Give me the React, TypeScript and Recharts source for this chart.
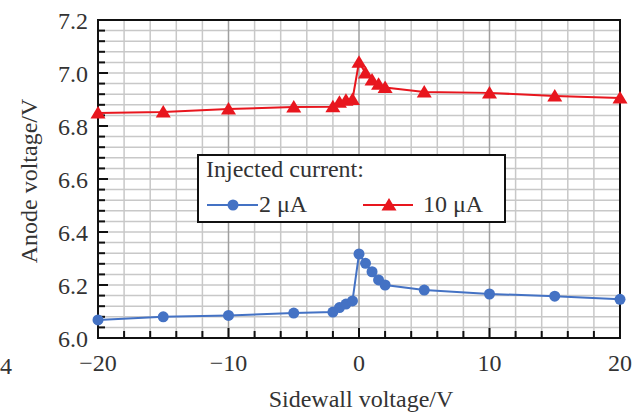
import React from 'react';
import { LineChart, Line, XAxis, YAxis, ReferenceArea, Legend } from 'recharts';

const sidewallV = [-20, -15, -10, -5, -2, -1.5, -1, -0.5, 0, 0.5, 1, 1.5, 2, 5, 10, 15, 20];
const anode2uA = [6.068, 6.08, 6.085, 6.094, 6.098, 6.115, 6.128, 6.14, 6.317, 6.282, 6.25, 6.219, 6.2, 6.181, 6.166, 6.158, 6.146];
const anode10uA = [6.849, 6.853, 6.864, 6.872, 6.873, 6.89, 6.897, 6.9, 7.041, 7.0, 6.974, 6.958, 6.945, 6.928, 6.925, 6.913, 6.906];

const xDomain = [-20, 20];
const yDomain = [6, 7.2];
const xTicks = [-20, -18, -16, -14, -12, -10, -8, -6, -4, -2, 0, 2, 4, 6, 8, 10, 12, 14, 16, 18, 20];
const xLabelTicks = [-20, -10, 0, 10, 20];
const yLabelTicks = [6.0, 6.2, 6.4, 6.6, 6.8, 7.0, 7.2];
const yTicks = Array.from({ length: 31 }, (_, i) => Number((6 + i * 0.04).toFixed(2)));
const darkGrid = [-10, 0, 10];

const series2 = sidewallV.map((x, i) => ({ x, y: anode2uA[i] }));
const series10 = sidewallV.map((x, i) => ({ x, y: anode10uA[i] }));

const BLUE = '#4472c4';
const RED = '#e8161e';
const FONT = '"Liberation Serif", "Times New Roman", serif';
const TXT = '#333';

const fmt = (v: number) => (v < 0 ? '\u2212' + Math.abs(v) : String(v));
const isIn = (list: number[], v: number) => list.some((t) => Math.abs(t - v) < 1e-6);

const YTick = (props: any) => {
    const { x, y, payload } = props;
    const v = payload.value;
    if (!isIn(yLabelTicks, v)) return <g />;
    return (
        <text x={x} y={y} dy="0.355em" textAnchor="end" fontFamily={FONT} fontSize={24} fill={TXT}>
            {v.toFixed(1)}
        </text>
    );
};

const XTick = (props: any) => {
    const { x, y, payload } = props;
    const v = payload.value;
    if (!isIn(xLabelTicks, v)) return <g />;
    return (
        <text x={x} y={y} dy="0.71em" textAnchor="middle" fontFamily={FONT} fontSize={24} fill={TXT}>
            {fmt(v)}
        </text>
    );
};

// grid, inward ticks and box, drawn in one layer so the ticks sit on top of the grid
const Frame = (props: any) => {
    const { x, y, width, height } = props;
    const px = (v: number) => x + ((v - xDomain[0]) / (xDomain[1] - xDomain[0])) * width;
    const py = (v: number) => y + ((yDomain[1] - v) / (yDomain[1] - yDomain[0])) * height;
    const bottom = y + height;
    return (
        <g>
            {yTicks.map((v) => (
                <line key={`gy${v}`} x1={x} x2={x + width} y1={py(v)} y2={py(v)} stroke="#c8c8c8" strokeWidth={1.5} />
            ))}
            {xTicks.map((v) => (
                <line key={`gx${v}`} x1={px(v)} x2={px(v)} y1={y} y2={bottom} stroke={isIn(darkGrid, v) ? '#a0a0a0' : '#c8c8c8'} strokeWidth={1.5} />
            ))}
            {yTicks.map((v) => (
                <line key={`ty${v}`} x1={x} x2={x + (isIn(yLabelTicks, v) ? 10 : 7)} y1={py(v)} y2={py(v)} stroke="#111" strokeWidth={2} />
            ))}
            {xTicks.map((v) => (
                <line key={`tx${v}`} x1={px(v)} x2={px(v)} y1={bottom} y2={bottom - (isIn(xLabelTicks, v) ? 10 : 7)} stroke="#111" strokeWidth={2} />
            ))}
            <rect x={x} y={y} width={width} height={height} fill="none" stroke="#111" strokeWidth={2} />
        </g>
    );
};

const TriangleDot = (props: any) => {
    const { cx, cy } = props;
    if (cx == null || cy == null) return null;
    return <path d={`M${cx},${cy - 7}L${cx + 7.5},${cy + 5.5}L${cx - 7.5},${cy + 5.5}Z`} fill={RED} />;
};

const LegendBox = () => (
    <svg width={309} height={69} style={{ display: 'block' }}>
        <rect x={1} y={1} width={307} height={67} fill="#fff" stroke="#111" strokeWidth={2} />
        <text x={9} y={23} fontFamily={FONT} fontSize={24} fill={TXT}>Injected current:</text>
        <line x1={10} x2={61} y1={51} y2={51} stroke={BLUE} strokeWidth={2} />
        <circle cx={36} cy={51} r={5.5} fill={BLUE} />
        <text x={62} y={58} fontFamily={FONT} fontSize={24} fill={TXT}>2 μA</text>
        <line x1={166} x2={216} y1={51} y2={51} stroke={RED} strokeWidth={2} />
        <path d="M192,44L199.5,56.5L184.5,56.5Z" fill={RED} />
        <text x={226} y={58} fontFamily={FONT} fontSize={24} fill={TXT}>10 μA</text>
    </svg>
);

const App: React.FC = () => {
    return (
        <div style={{ position: 'absolute', left: 0, top: 0, width: 642, height: 418, background: '#fff' }}>
            <LineChart width={642} height={418} margin={{ top: 20, right: 22, bottom: 0, left: 0 }}>
                <XAxis
                    type="number"
                    dataKey="x"
                    domain={xDomain}
                    ticks={xTicks}
                    interval={0}
                    axisLine={false}
                    tickLine={false}
                    tickSize={0}
                    tickMargin={16}
                    height={80}
                    tick={<XTick />}
                    label={{
                        content: (p: any) => {
                            const vb = p.viewBox;
                            return (
                                <text x={vb.x + vb.width / 2 + 2} y={407} textAnchor="middle" fontFamily={FONT} fontSize={24} fill={TXT}>
                                    Sidewall voltage/V
                                </text>
                            );
                        },
                    }}
                />
                <YAxis
                    type="number"
                    dataKey="y"
                    domain={yDomain}
                    ticks={yTicks}
                    interval={0}
                    axisLine={false}
                    tickLine={false}
                    tickSize={0}
                    tickMargin={10}
                    width={98}
                    tick={<YTick />}
                    label={{
                        content: () => (
                            <text x={37} y={181} transform="rotate(-90 37 181)" textAnchor="middle" fontFamily={FONT} fontSize={24} fill={TXT}>
                                Anode voltage/V
                            </text>
                        ),
                    }}
                />
                <ReferenceArea x1={xDomain[0]} x2={xDomain[1]} y1={yDomain[0]} y2={yDomain[1]} shape={<Frame />} />
                <Line
                    data={series2}
                    dataKey="y"
                    stroke={BLUE}
                    strokeWidth={2}
                    dot={{ r: 5.5, fill: BLUE, stroke: BLUE, strokeWidth: 0 }}
                    isAnimationActive={false}
                />
                <Line
                    data={series10}
                    dataKey="y"
                    stroke={RED}
                    strokeWidth={2}
                    dot={(p: any) => <TriangleDot key={`t-${p.index}`} {...p} />}
                    isAnimationActive={false}
                />
                <Legend
                    layout="horizontal"
                    verticalAlign="middle"
                    align="center"
                    wrapperStyle={{ position: 'absolute', left: 197, top: 154, width: 309, height: 69 }}
                    content={() => <LegendBox />}
                />
            </LineChart>
            <div style={{ position: 'absolute', left: 0, top: 354, fontFamily: FONT, fontSize: 24, color: TXT, lineHeight: '24px' }}>4</div>
        </div>
    );
};

export default App;
